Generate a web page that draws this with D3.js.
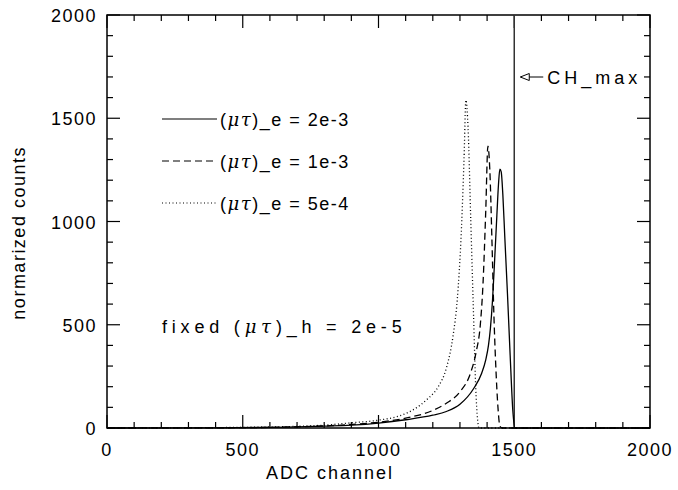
<!DOCTYPE html>
<html>
<head>
<meta charset="utf-8">
<script src="https://cdn.jsdelivr.net/npm/d3@7"></script>
<style>
  body { margin: 0; background: #fff; }
  text { font-family: 'Liberation Sans', Arial, sans-serif; fill: #000; }
</style>
</head>
<body>
<div id="chart"></div>
<script>
// values
let solidCh = [0, 400, 600, 700, 800, 900, 1000, 1100, 1200, 1250, 1300, 1350, 1380, 1395, 1405, 1412, 1420, 1428, 1436, 1442, 1447, 1452, 1458, 1465, 1475, 1485, 1495, 1502, 2000]
let solidCounts = [0, 1, 3, 5, 9, 14, 24, 40, 62, 80, 115, 190, 265, 330, 400, 480, 620, 820, 1030, 1180, 1254, 1240, 1130, 930, 650, 350, 80, 0, 0]

let dashCh = [0, 400, 600, 700, 800, 900, 1000, 1100, 1200, 1250, 1300, 1340, 1360, 1375, 1385, 1395, 1403, 1410, 1418, 1425, 1432, 1440, 1447, 1455, 2000]
let dashCounts = [0, 1, 3, 6, 10, 17, 28, 48, 85, 120, 175, 270, 370, 500, 700, 1050, 1365, 1250, 900, 550, 300, 100, 10, 0, 0]

let dotCh = [0, 400, 600, 700, 800, 900, 1000, 1080, 1130, 1180, 1220, 1250, 1275, 1290, 1305, 1315, 1322, 1330, 1340, 1350, 1358, 1365, 1370, 2000]
let dotCounts = [0, 2, 5, 8, 14, 25, 38, 60, 90, 140, 200, 290, 450, 620, 950, 1300, 1588, 1450, 1000, 550, 200, 40, 0, 0]

let chMax = 1500
let xTicks = [0, 500, 1000, 1500, 2000]
let yTicks = [0, 500, 1000, 1500, 2000]
let legendLabels = ['2e-3', '1e-3', '5e-4']

let margin = { top: 15, left: 107, right: 28, bottom: 62 }
let width = 678 - margin.left - margin.right
let height = 490 - margin.top - margin.bottom

let svg = d3.select('#chart')
  .append('svg')
  .attr('width', 678)
  .attr('height', 490)
  .append('g')
  .attr('transform', `translate(${margin.left}, ${margin.top})`)

let xPositionScale = d3.scaleLinear().domain([0, 2000]).range([0, width])
let yPositionScale = d3.scaleLinear().domain([0, 2000]).range([height, 0])

// ticks on all four sides, pointing inward
let minorX = d3.range(0, 2001, 100)
let minorY = d3.range(0, 2001, 100)

let ticks = svg.append('g').attr('stroke', '#000').attr('stroke-width', 1.2)
minorX.forEach(v => {
  let len = v % 500 === 0 ? 13 : 6
  let x = xPositionScale(v)
  ticks.append('line').attr('x1', x).attr('x2', x).attr('y1', height).attr('y2', height - len)
  ticks.append('line').attr('x1', x).attr('x2', x).attr('y1', 0).attr('y2', len)
})
minorY.forEach(v => {
  let len = v % 500 === 0 ? 13 : 6
  let y = yPositionScale(v)
  ticks.append('line').attr('x1', 0).attr('x2', len).attr('y1', y).attr('y2', y)
  ticks.append('line').attr('x1', width).attr('x2', width - len).attr('y1', y).attr('y2', y)
})

svg.append('rect')
  .attr('width', width)
  .attr('height', height)
  .attr('fill', 'none')
  .attr('stroke', '#000')
  .attr('stroke-width', 1.5)

svg.selectAll('.xlab')
  .data(xTicks)
  .enter()
  .append('text')
  .attr('x', d => xPositionScale(d))
  .attr('y', height + 28)
  .attr('text-anchor', 'middle')
  .attr('font-size', 18)
  .attr('letter-spacing', 1.5)
  .text(d => d)

svg.selectAll('.ylab')
  .data(yTicks)
  .enter()
  .append('text')
  .attr('x', -10)
  .attr('y', d => yPositionScale(d) + 7)
  .attr('text-anchor', 'end')
  .attr('font-size', 18)
  .attr('letter-spacing', 1.5)
  .text(d => d)

svg.append('text')
  .attr('x', 223)
  .attr('y', height + 51)
  .attr('text-anchor', 'middle')
  .attr('font-size', 18)
  .attr('letter-spacing', 2)
  .text('ADC channel')

svg.append('text')
  .attr('transform', `translate(-82, ${yPositionScale(945)}) rotate(-90)`)
  .attr('text-anchor', 'middle')
  .attr('font-size', 18)
  .attr('letter-spacing', 1.5)
  .text('normarized counts')

// CH_max marker
svg.append('line')
  .attr('x1', xPositionScale(chMax))
  .attr('x2', xPositionScale(chMax))
  .attr('y1', 0)
  .attr('y2', height)
  .attr('stroke', '#333')
  .attr('stroke-width', 1.5)

let ax = xPositionScale(chMax) + 6
let ay = 62
svg.append('path')
  .attr('d', `M${ax},${ay} l9,-3.5 l0,7 z M${ax + 9},${ay} l14,0`)
  .attr('fill', 'none')
  .attr('stroke', '#000')
  .attr('stroke-width', 1)
svg.append('text')
  .attr('x', ax + 27)
  .attr('y', ay + 7)
  .attr('font-size', 18)
  .attr('letter-spacing', 4)
  .text('CH_max')

let line = d3.line()
  .x(d => xPositionScale(d[0]))
  .y(d => yPositionScale(d[1]))
  .curve(d3.curveMonotoneX)

let series = [
  { ch: solidCh, counts: solidCounts, dash: null, w: 1.3 },
  { ch: dashCh, counts: dashCounts, dash: '7,4', w: 1.3 },
  { ch: dotCh, counts: dotCounts, dash: '1,2.5', w: 1.3 }
]

series.forEach((s, i) => {
  svg.append('path')
    .datum(d3.zip(s.ch, s.counts))
    .attr('d', line)
    .attr('fill', 'none')
    .attr('stroke', '#000')
    .attr('stroke-width', s.w)
    .attr('stroke-dasharray', s.dash)

  let ly = 104 + i * 42
  svg.append('line')
    .attr('x1', 55)
    .attr('x2', 110)
    .attr('y1', ly)
    .attr('y2', ly)
    .attr('stroke', '#000')
    .attr('stroke-width', 1.2)
    .attr('stroke-dasharray', s.dash)

  let t = svg.append('text')
    .attr('x', 113)
    .attr('y', ly + 7)
    .attr('font-size', 18)
    .attr('letter-spacing', 1.5)
  t.append('tspan').text('(')
  t.append('tspan').attr('font-style', 'italic').attr('font-family', 'DejaVu Serif').text('μτ')
  t.append('tspan').text(')_e = ' + legendLabels[i])
})

let ft = svg.append('text')
  .attr('x', 55)
  .attr('y', 318)
  .attr('font-size', 18)
  .attr('letter-spacing', 4.8)
ft.append('tspan').text('fixed (')
ft.append('tspan').attr('font-style', 'italic').attr('font-family', 'DejaVu Serif').text('μτ')
ft.append('tspan').text(')_h = 2e-5')
</script>
</body>
</html>
